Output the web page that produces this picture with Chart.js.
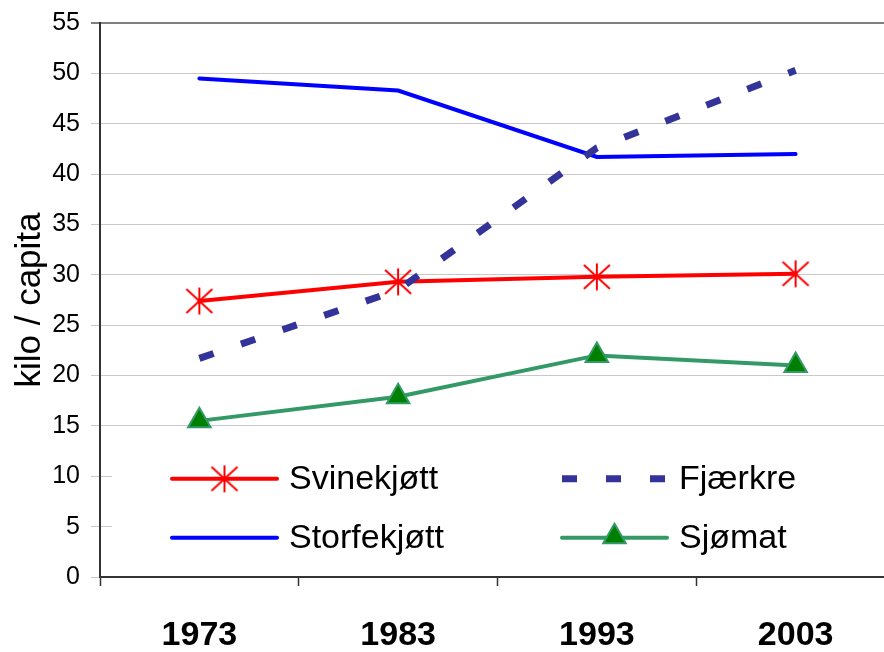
<!DOCTYPE html>
<html>
<head>
<meta charset="utf-8">
<script src="https://cdn.jsdelivr.net/npm/chart.js@4/dist/chart.umd.min.js"></script>
<style>
html, body { margin: 0; padding: 0; background: #fff; overflow: hidden; }
#wrap { width: 900px; height: 652px; }
</style>
</head>
<body>
<div id="wrap"><canvas id="chart"></canvas></div>
<script>
// data
const years = ['1973', '1983', '1993', '2003'];
const svinekjott = [27.4, 29.3, 29.8, 30.1];
const storfekjott = [49.5, 48.3, 41.7, 42.0];
const fjaerkre = [21.7, 28.5, 42.6, 50.3];
const sjomat = [15.5, 17.9, 22.0, 21.0];
const yMin = 0, yMax = 55, yStep = 5;
const yTitle = 'kilo / capita';

const FONT = "'Liberation Sans', Arial, sans-serif";

// Excel-like asterisk marker
function makeStar(color) {
    const c = document.createElement('canvas');
    c.width = 30; c.height = 30;
    const g = c.getContext('2d');
    g.strokeStyle = color;
    g.lineWidth = 2;
    g.beginPath();
    g.moveTo(15, 1.5); g.lineTo(15, 28.5);
    g.moveTo(2, 3); g.lineTo(28, 27);
    g.moveTo(28, 3); g.lineTo(2, 27);
    g.stroke();
    return c;
}
const starImg = makeStar('#FF0000');

function drawTriangle(ctx, x, y, r, fill, stroke) {
    ctx.save();
    ctx.beginPath();
    ctx.moveTo(x, y - r);
    ctx.lineTo(x + r * 0.866, y + r * 0.5);
    ctx.lineTo(x - r * 0.866, y + r * 0.5);
    ctx.closePath();
    ctx.fillStyle = fill;
    ctx.fill();
    ctx.lineWidth = 2;
    ctx.strokeStyle = stroke;
    ctx.stroke();
    ctx.restore();
}

// legend drawn inside the plot area, two columns
const insideLegend = {
    id: 'insideLegend',
    afterDatasetsDraw(chart) {
        const ctx = chart.ctx;
        const area = chart.chartArea;
        const ys = chart.scales.y;
        const cols = [area.left + 72, area.left + 462];
        const rows = [ys.getPixelForValue(9.75), ys.getPixelForValue(3.9)];
        const layout = [[0, 0, 0], [2, 1, 0], [1, 0, 1], [3, 1, 1]]; // dataset, col, row
        const boxTop = ys.getPixelForValue(13.9), boxBottom = ys.getPixelForValue(1.1);

        ctx.save();
        ctx.fillStyle = '#fff';
        ctx.fillRect(area.left + 12, boxTop, chart.width, boxBottom - boxTop);

        layout.forEach(([i, c, r]) => {
            const ds = chart.data.datasets[i];
            const x0 = cols[c], x1 = x0 + 105, y = rows[r];
            ctx.save();
            ctx.strokeStyle = ds.borderColor;
            ctx.lineWidth = ds.borderWidth;
            ctx.lineCap = ds.borderDash ? 'butt' : 'round';
            ctx.setLineDash(ds.borderDash || []);
            ctx.beginPath();
            ctx.moveTo(x0, y);
            ctx.lineTo(x1, y);
            ctx.stroke();
            ctx.restore();

            const mx = (x0 + x1) / 2;
            if (ds.pointStyle === starImg) {
                ctx.drawImage(starImg, mx - 15, y - 15);
            } else if (ds.pointStyle === 'triangle') {
                drawTriangle(ctx, mx, y - 1, 13, ds.pointBackgroundColor, ds.pointBorderColor);
            }

            ctx.fillStyle = '#000';
            ctx.font = '34px ' + FONT;
            ctx.textBaseline = 'middle';
            ctx.textAlign = 'left';
            ctx.fillText(ds.label, x1 + 12, y + 1);
        });
        ctx.restore();
    }
};

const ctx = document.getElementById('chart');
new Chart(ctx, {
    type: 'line',
    data: {
        labels: years,
        datasets: [{
            label: 'Svinekjøtt',
            data: svinekjott,
            borderColor: '#FF0000',
            borderWidth: 4,
            pointStyle: starImg,
            pointRadius: 14,
            order: 3
        }, {
            label: 'Storfekjøtt',
            data: storfekjott,
            borderColor: '#0000FF',
            borderWidth: 4,
            pointRadius: 0,
            order: 2
        }, {
            label: 'Fjærkre',
            data: fjaerkre,
            borderColor: '#333399',
            borderWidth: 7,
            borderDash: [15, 29],
            borderCapStyle: 'butt',
            pointRadius: 0,
            order: 1
        }, {
            label: 'Sjømat',
            data: sjomat,
            borderColor: '#339966',
            borderWidth: 4,
            pointStyle: 'triangle',
            pointRadius: 13,
            pointBackgroundColor: '#008000',
            pointBorderColor: '#339966',
            pointBorderWidth: 2,
            order: 0
        }]
    },
    options: {
        responsive: true,
        maintainAspectRatio: false,
        animation: false,
        layout: { autoPadding: false, padding: { left: 0, top: 23, right: 5, bottom: 0 } },
        elements: { line: { tension: 0, borderCapStyle: 'round' } },
        plugins: {
            legend: { display: false },
            tooltip: { enabled: false }
        },
        scales: {
            x: {
                offset: true,
                afterFit: s => { s.height = 75; },
                grid: {
                    offset: true,
                    drawOnChartArea: false,
                    tickLength: 9,
                    tickColor: '#333',
                    tickWidth: 1.5
                },
                border: { color: '#333', width: 2 },
                ticks: {
                    color: '#000',
                    padding: 29,
                    maxRotation: 0,
                    font: { family: FONT, size: 34, weight: 'bold' }
                }
            },
            y: {
                min: yMin,
                max: yMax,
                afterFit: s => { s.width = 100; s.paddingTop = 0; s.paddingBottom = 0; },
                ticks: {
                    stepSize: yStep,
                    color: '#000',
                    padding: 11,
                    font: { family: FONT, size: 25 }
                },
                grid: {
                    color: c => c.tick.value === yMax ? '#808080' : '#c8c8c8',
                    lineWidth: c => c.tick.value === yMax ? 2 : 1,
                    tickLength: 9
                },
                border: { color: '#333', width: 2 },
                title: {
                    display: true,
                    text: yTitle,
                    color: '#000',
                    padding: { top: 9, bottom: 0 },
                    font: { family: FONT, size: 35 }
                }
            }
        }
    },
    plugins: [insideLegend]
});
</script>
</body>
</html>
